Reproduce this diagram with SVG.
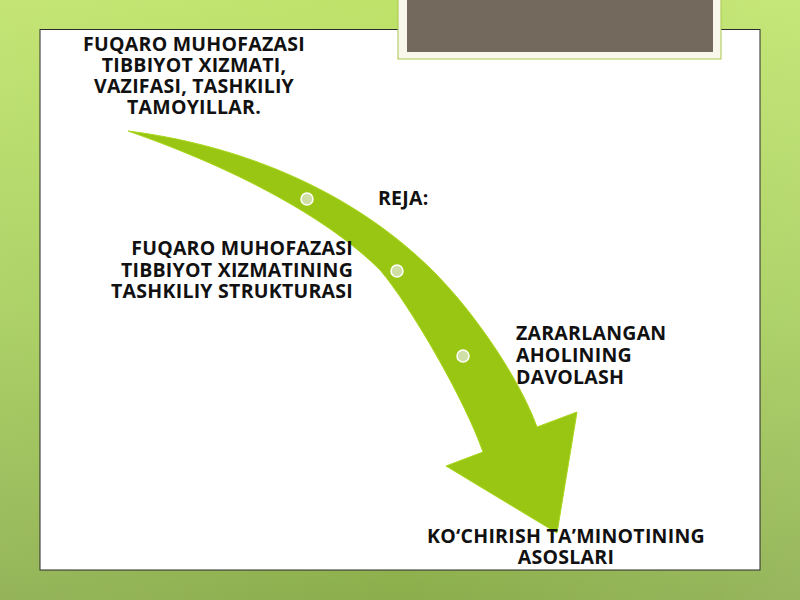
<svg xmlns="http://www.w3.org/2000/svg" width="800" height="600" viewBox="0 0 800 600">
<defs>
<linearGradient id="bg" x1="0" y1="0" x2="0" y2="1">
<stop offset="0" stop-color="#bfe36a"/>
<stop offset="0.5" stop-color="#a8cf5c"/>
<stop offset="1" stop-color="#8cae4c"/>
</linearGradient>
<linearGradient id="bgx" x1="0" y1="0" x2="1" y2="0">
<stop offset="0" stop-color="#ffffff" stop-opacity="0.08"/>
<stop offset="0.5" stop-color="#ffffff" stop-opacity="0"/>
<stop offset="1" stop-color="#ffffff" stop-opacity="0.1"/>
</linearGradient>
<style>
.t{font-family:"Open Sans","Noto Sans","DejaVu Sans",sans-serif;font-weight:bold;font-size:19.5px;letter-spacing:0.25px;fill:#111}
.dot{fill:#cfe0a6;stroke:#ffffff;stroke-width:1.5}
</style>
</defs>
<rect x="0" y="0" width="800" height="600" fill="url(#bg)"/>
<rect x="0" y="0" width="800" height="600" fill="url(#bgx)"/>
<rect x="40" y="29.5" width="720" height="540.5" fill="#ffffff" stroke="#2a2a2a" stroke-width="1"/>
<g id="titlebox">
<rect x="398" y="-2" width="323" height="61" fill="#f7f7ec" stroke="#a8c84a" stroke-width="1"/>
<rect x="407" y="-2" width="306" height="54" fill="#736a5d"/>
</g>
<g id="connectors">
<path d="M128,131 C240,145 350,190 430,268 C475,312 520,380 537,427 L577,412 L557,533 L446,466 L483,452 C465,400 410,305 380,270 C330,220 240,170 128,131 Z" fill="#98c612" stroke="#a9d61c" stroke-width="1"/>
</g>
<g id="dots">
<circle class="dot" cx="307" cy="199" r="6"/>
<circle class="dot" cx="397" cy="271" r="6"/>
<circle class="dot" cx="463" cy="356" r="6"/>
</g>
<g id="node-title">
<text class="t" text-anchor="middle" x="194" y="51">FUQARO MUHOFAZASI</text>
<text class="t" text-anchor="middle" x="194" y="72">TIBBIYOT XIZMATI,</text>
<text class="t" text-anchor="middle" x="194" y="93">VAZIFASI, TASHKILIY</text>
<text class="t" text-anchor="middle" x="194" y="114">TAMOYILLAR.</text>
</g>
<g id="node-reja">
<text class="t" x="378" y="205">REJA:</text>
</g>
<g id="node-1">
<text class="t" text-anchor="end" x="353" y="255">FUQARO MUHOFAZASI</text>
<text class="t" text-anchor="end" x="353" y="277">TIBBIYOT XIZMATINING</text>
<text class="t" text-anchor="end" x="353" y="298">TASHKILIY STRUKTURASI</text>
</g>
<g id="node-2">
<text class="t" x="516" y="340">ZARARLANGAN</text>
<text class="t" x="516" y="362">AHOLINING</text>
<text class="t" x="516" y="384">DAVOLASH</text>
</g>
<g id="node-3">
<text class="t" text-anchor="middle" x="566" y="543">KO‘CHIRISH TA’MINOTINING</text>
<text class="t" text-anchor="middle" x="566" y="564">ASOSLARI</text>
</g>
</svg>
